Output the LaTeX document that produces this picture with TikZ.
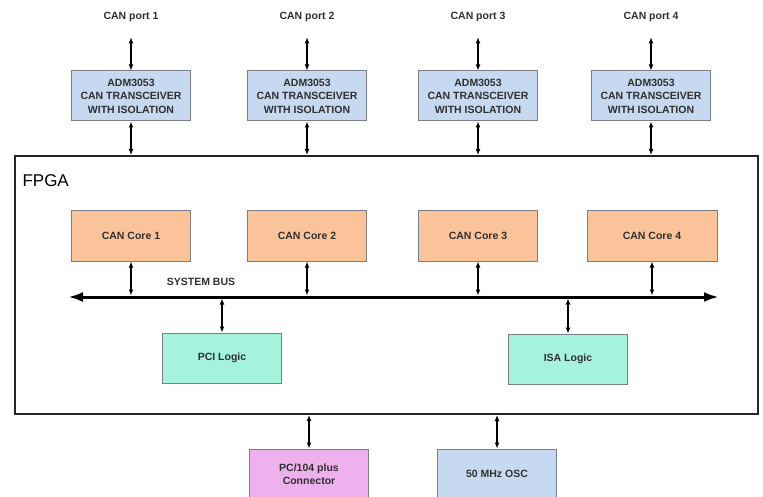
\documentclass[tikz,border=0pt]{standalone}
\usepackage{fontspec}
\setmainfont{Liberation Sans}
\usetikzlibrary{arrows.meta}
\newcommand{\boxWidth}[0]{119pt}
\newcommand{\boxHeight}[0]{50pt}
\definecolor{xcvrBlue}{HTML}{C6D9F1}
\definecolor{coreOrange}{HTML}{FAC399}
\definecolor{logicGreen}{HTML}{A5F3DC}
\definecolor{connPink}{HTML}{EFB0EE}
\definecolor{boxEdge}{HTML}{7A7F88}
\definecolor{labelGray}{HTML}{303030}

\begin{document}
\begin{tikzpicture}[x=1pt, y=-1pt]
  \tikzset{every node/.style={font=\bfseries\fontsize{10.5}{13.5}\selectfont, text=labelGray, align=center},
           block/.style={draw=boxEdge, line width=1pt, minimum width=\boxWidth, minimum height=\boxHeight, inner sep=2pt},
           xcvr/.style={block, fill=xcvrBlue},
           core/.style={block, fill=coreOrange},
           logic/.style={block, fill=logicGreen},
           link/.style={{Latex[length=6pt,width=5pt]}-{Latex[length=6pt,width=5pt]}, line width=1.3pt},
           bus/.style={{Latex[length=15pt,width=10pt]}-{Latex[length=15pt,width=10pt]}, line width=3pt}}
  \useasboundingbox (0,0) rectangle (763,497);
  \clip (0,0) rectangle (763,497);
  \fill[white] (0,0) rectangle (763,497);

  \node[draw=black!85, line width=2pt, minimum width=743pt, minimum height=258pt, inner sep=0pt] (fpga) at (386,285) {};
  \node[anchor=west, font=\fontsize{17}{20}\selectfont, text=black] (fpgaLabel) at (19,181) {FPGA};

  \node (port1) at (131,17) {CAN port 1};
  \node (port2) at (307,17) {CAN port 2};
  \node (port3) at (478,17) {CAN port 3};
  \node (port4) at (651,17) {CAN port 4};

  \node[xcvr] (xcvr1) at (131,96) {ADM3053\\CAN TRANSCEIVER\\WITH ISOLATION};
  \node[xcvr] (xcvr2) at (307,96) {ADM3053\\CAN TRANSCEIVER\\WITH ISOLATION};
  \node[xcvr] (xcvr3) at (478,96) {ADM3053\\CAN TRANSCEIVER\\WITH ISOLATION};
  \node[xcvr] (xcvr4) at (651,96) {ADM3053\\CAN TRANSCEIVER\\WITH ISOLATION};

  \draw[link] ([yshift=-12pt]xcvr1.north |- port1.south) -- (xcvr1.north);
  \draw[link] ([yshift=-12pt]xcvr2.north |- port2.south) -- (xcvr2.north);
  \draw[link] ([yshift=-12pt]xcvr3.north |- port3.south) -- (xcvr3.north);
  \draw[link] ([yshift=-12pt]xcvr4.north |- port4.south) -- (xcvr4.north);
  \draw[link] (xcvr1.south) -- (xcvr1.south |- fpga.north);
  \draw[link] (xcvr2.south) -- (xcvr2.south |- fpga.north);
  \draw[link] (xcvr3.south) -- (xcvr3.south |- fpga.north);
  \draw[link] (xcvr4.south) -- (xcvr4.south |- fpga.north);

  \node[core] (core1) at (131,236) {CAN Core 1};
  \node[core] (core2) at (307,236) {CAN Core 2};
  \node[core] (core3) at (478,236) {CAN Core 3};
  \node[core, minimum width=130pt] (core4) at (652,236) {CAN Core 4};

  \coordinate (busL) at (68,297);
  \coordinate (busR) at (719,297);
  \draw[bus] (busL) -- (busR);
  \node (busLabel) at (201,282) {SYSTEM BUS};

  \draw[link, shorten >=1.5pt] (core1.south) -- (core1.south |- busL);
  \draw[link, shorten >=1.5pt] (core2.south) -- (core2.south |- busL);
  \draw[link, shorten >=1.5pt] (core3.south) -- (core3.south |- busL);
  \draw[link, shorten >=1.5pt] (core4.south) -- (core4.south |- busL);

  \node[logic] (pci) at (222,358) {PCI Logic};
  \node[logic] (isa) at (568,359) {ISA Logic};
  \draw[link, shorten >=1.5pt] (pci.north) -- (pci.north |- busL);
  \draw[link, shorten >=1.5pt] (isa.north) -- (isa.north |- busL);

  \node[block, fill=connPink] (pc104) at (309,474) {PC/104 plus\\Connector};
  \node[block, fill=xcvrBlue] (osc) at (497,474) {50 MHz OSC};
  \draw[link] (fpga.south -| pc104.north) -- (pc104.north);
  \draw[link] (fpga.south -| osc.north) -- (osc.north);
\end{tikzpicture}
\end{document}
